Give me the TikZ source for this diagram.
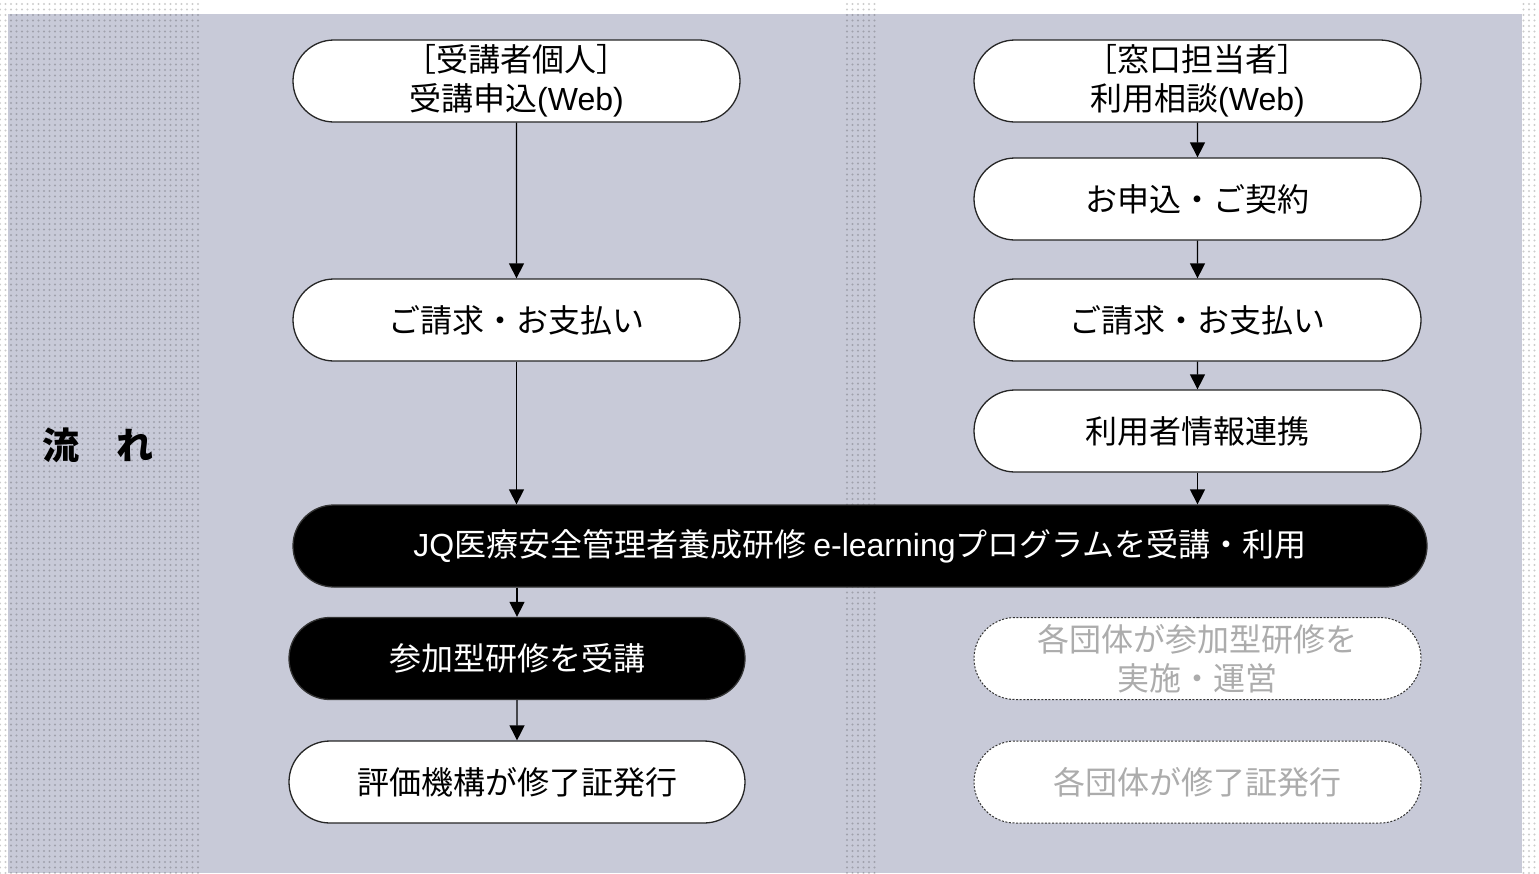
\documentclass[tikz,border=0pt]{standalone}
\usepackage{fontspec}
\newfontfamily\jp{Noto Sans CJK JP}
\newfontfamily\lat{Liberation Sans}
\usetikzlibrary{shapes.misc,arrows.meta,patterns.meta}
\definecolor{bgc}{RGB}{200,202,216}
\definecolor{graytxt}{RGB}{172,172,172}
\tikzset{
  pill/.style={rounded rectangle, draw=black!85, line width=1.3pt, fill=white,
    minimum width=447pt, minimum height=82pt, inner sep=0pt, align=center,
    font=\jp\fontsize{32}{39}\selectfont},
  blackpill/.style={pill, fill=black, draw=black!80, text=white},
  dashpill/.style={pill, draw=black!80, line width=1pt, dash pattern=on 2pt off 1.6pt, text=graytxt},
  arr/.style={line width=1.3pt, -{Triangle[width=15pt,length=15pt]}},
  dotfill/.style={pattern={Dots[distance=5.5pt,radius=1.1pt]}, pattern color=black, fill opacity=0.2}
}
\begin{document}
\begin{tikzpicture}[x=1pt,y=-1pt]
\useasboundingbox (0,0) rectangle (1539,873);
\fill[white] (0,0) rectangle (1539,873);
\fill[bgc] (8,14) rectangle (1522,873);
\fill[dotfill] (0,0) rectangle (200,873);
\fill[dotfill] (843,0) rectangle (878,873);
\fill[dotfill] (1522,0) rectangle (1539,873);

\node[font=\jp\bfseries\fontsize{37}{40}\selectfont] (flow) at (98,445) {流　れ};

\node[pill] (a1) at (516.5,81) {［受講者個人］\\受講申込{\lat(Web)}};
\node[pill] (a2) at (516.5,320) {ご請求・お支払い};
\node[blackpill, minimum width=1134pt] (m) at (860,546) {{\lat JQ}医療安全管理者養成研修 {\lat e-learning}プログラムを受講・利用};
\node[blackpill, minimum width=456pt] (a3) at (517,658.5) {参加型研修を受講};
\node[pill, minimum width=456pt] (a4) at (517,782) {評価機構が修了証発行};

\node[pill] (b1) at (1197.5,81) {［窓口担当者］\\利用相談{\lat(Web)}};
\node[pill] (b2) at (1197.5,199) {お申込・ご契約};
\node[pill] (b3) at (1197.5,320) {ご請求・お支払い};
\node[pill] (b4) at (1197.5,431) {利用者情報連携};
\node[dashpill] (b5) at (1197.5,658.5) {各団体が参加型研修を\\実施・運営};
\node[dashpill] (b6) at (1197.5,782) {各団体が修了証発行};

\draw[arr] (a1) -- (a2);
\draw[arr] (a2.south) -- (a2.south |- m.north);
\draw[arr] (a3.north |- m.south) -- (a3.north);
\draw[arr] (a3) -- (a4);
\draw[arr] (b1) -- (b2);
\draw[arr] (b2) -- (b3);
\draw[arr] (b3) -- (b4);
\draw[arr] (b4.south) -- (b4.south |- m.north);
\end{tikzpicture}
\end{document}
